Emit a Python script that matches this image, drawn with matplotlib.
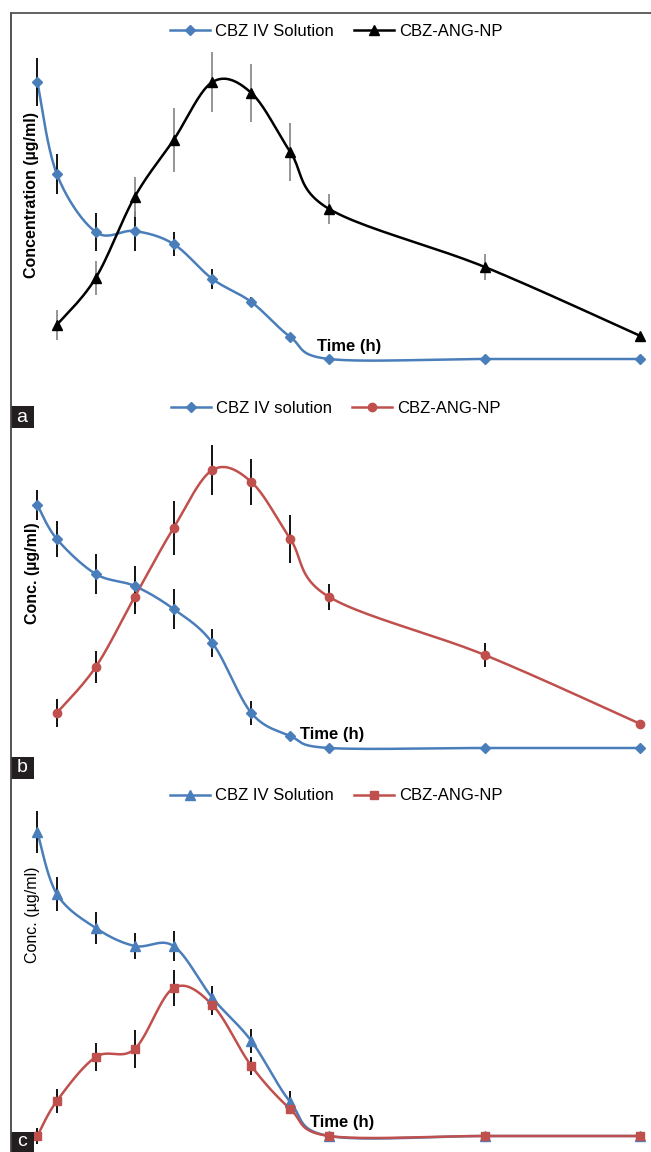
import numpy as np
import matplotlib.pyplot as plt
from matplotlib.patches import Rectangle
from matplotlib.lines import Line2D

plt.rcParams['font.family'] = ['Liberation Sans', 'DejaVu Sans']

# sampling times (h)
time_iv = [0.5, 1, 2, 3, 4, 5, 6, 7, 8, 12, 16]
time_np = [1, 2, 3, 4, 5, 6, 7, 8, 12, 16]
time_c = [0.5, 1, 2, 3, 4, 5, 6, 7, 8, 12, 16]

# panel a
a_iv = [28.0, 18.8, 13.0, 13.1, 11.8, 8.3, 6.0, 2.5, 0.3, 0.3, 0.3]
a_iv_err = [2.4, 2.0, 1.9, 2.0, 1.2, 1.0, 0.5, 0.3, 0, 0, 0]
a_np = [3.7, 8.4, 16.5, 22.2, 28.0, 26.9, 21.0, 15.3, 9.5, 2.6]
a_np_err = [1.5, 1.7, 2.0, 3.2, 3.0, 2.9, 2.9, 1.5, 1.3, 0]

# panel b
b_iv = [24.5, 21.1, 17.6, 16.4, 14.1, 10.7, 3.7, 1.4, 0.2, 0.2, 0.2]
b_iv_err = [1.5, 1.8, 2.0, 2.0, 2.0, 1.4, 1.2, 0, 0, 0, 0]
b_np = [3.7, 8.3, 15.3, 22.2, 28.0, 26.8, 21.1, 15.3, 9.5, 2.6]
b_np_err = [1.4, 1.6, 1.7, 2.7, 2.5, 2.3, 2.4, 1.3, 1.2, 0]

# panel c
c_iv = [30.6, 24.4, 21.0, 19.2, 19.2, 14.0, 9.7, 3.6, 0.2, 0.2, 0.2]
c_iv_err = [2.1, 1.7, 1.6, 1.3, 1.5, 1.2, 1.2, 1.1, 0, 0, 0]
c_np = [0.2, 3.7, 8.1, 8.9, 15.0, 13.3, 7.2, 2.9, 0.2, 0.2, 0.2]
c_np_err = [0.8, 1.2, 1.4, 1.9, 1.8, 1.0, 0.9, 0, 0, 0, 0]

BLUE = '#4a7ebb'
RED = '#c0504d'

W, H = 651, 1152
fig = plt.figure(figsize=(W / 100, H / 100), dpi=100)


def fx(px):
    return px / W


def fy(py):
    return 1 - py / H


def smooth(x, y, n=24):
    # catmull-rom style smoothing like the spreadsheet "smoothed line"
    p = np.column_stack([x, y]).astype(float)
    p = np.vstack([p[0], p, p[-1]])
    out = []
    for i in range(1, len(p) - 2):
        p0, p1, p2, p3 = p[i - 1], p[i], p[i + 1], p[i + 2]
        c1 = p1 + (p2 - p0) / 6
        c2 = p2 - (p3 - p1) / 6
        t = np.linspace(0, 1, n)[:, None]
        seg = (1 - t) ** 3 * p1 + 3 * (1 - t) ** 2 * t * c1 + 3 * (1 - t) * t ** 2 * c2 + t ** 3 * p2
        out.append(seg if i == 1 else seg[1:])
    out = np.vstack(out)
    return out[:, 0], out[:, 1]


def panel(top, bottom, ylim, series, labels, ylabel, ybold, ylab_y, time_xy):
    ax = fig.add_axes([fx(10.5), fy(bottom), fx(W - 10.5), (bottom - top) / H])
    ax.set_xlim(-0.19, 16.27)
    ax.set_ylim(*ylim)
    ax.axis('off')
    handles = []
    for (t, v, e, color, marker, ms, ecolor) in series:
        sx, sy = smooth(t, v)
        ax.plot(sx, sy, color=color, lw=1.8, zorder=2)
        ax.errorbar(t, v, yerr=e, fmt='none', ecolor=ecolor, elinewidth=1.3, capsize=0, zorder=3)
        ax.plot(t, v, ls='none', marker=marker, ms=ms, color=color, zorder=4)
        handles.append(Line2D([], [], color=color, lw=1.8, marker=marker, ms=ms))
    fig.legend(handles, labels, loc='center', ncol=2, frameon=False, fontsize=12,
               bbox_to_anchor=(fx(336), fy(top + 18)), handlelength=2.4,
               handletextpad=0.3, columnspacing=1.2)
    fig.text(fx(32), fy(ylab_y), ylabel, rotation=90, ha='center', va='center',
             fontsize=11.5, fontweight='bold' if ybold else 'normal')
    fig.text(fx(time_xy[0]), fy(time_xy[1]), 'Time (h)', ha='center', va='center',
             fontsize=12, fontweight='bold')
    return ax


panel(13, 400, (-3.8, 34.9),
      [(time_iv, a_iv, a_iv_err, BLUE, 'D', 5, 'black'),
       (time_np, a_np, a_np_err, 'black', '^', 6.5, '#8c8c8c')],
      ['CBZ IV Solution', 'CBZ-ANG-NP'], 'Concentration (µg/ml)', True, 195, (349, 347))

panel(390, 770, (-2.0, 36.0),
      [(time_iv, b_iv, b_iv_err, BLUE, 'D', 5, 'black'),
       (time_np, b_np, b_np_err, RED, 'o', 6, 'black')],
      ['CBZ IV solution', 'CBZ-ANG-NP'], 'Conc. (µg/ml)', True, 573, (332, 735))

panel(778, 1152, (-1.4, 36.0),
      [(time_c, c_iv, c_iv_err, BLUE, '^', 6.5, 'black'),
       (time_c, c_np, c_np_err, RED, 's', 5.5, 'black')],
      ['CBZ IV Solution', 'CBZ-ANG-NP'], 'Conc. (µg/ml)', False, 915, (342, 1123))

# outer frame (top and left edges)
fig.add_artist(Line2D([fx(10.5), fx(10.5)], [fy(12.7), 0], color='#444444', lw=1.3))
fig.add_artist(Line2D([fx(10.5), 1], [fy(12.7), fy(12.7)], color='#555555', lw=1.3))

# panel letters
for letter, y0, y1 in [('a', 406, 428), ('b', 757, 779), ('c', 1132, 1152)]:
    fig.add_artist(Rectangle((fx(10.5), fy(y1)), fx(23.5), (y1 - y0) / H,
                             facecolor='#231f20', edgecolor='none', transform=fig.transFigure))
    fig.text(fx(22), fy((y0 + y1) / 2), letter, color='white', fontsize=14,
             ha='center', va='center')

fig.savefig('out.png', dpi=100)
